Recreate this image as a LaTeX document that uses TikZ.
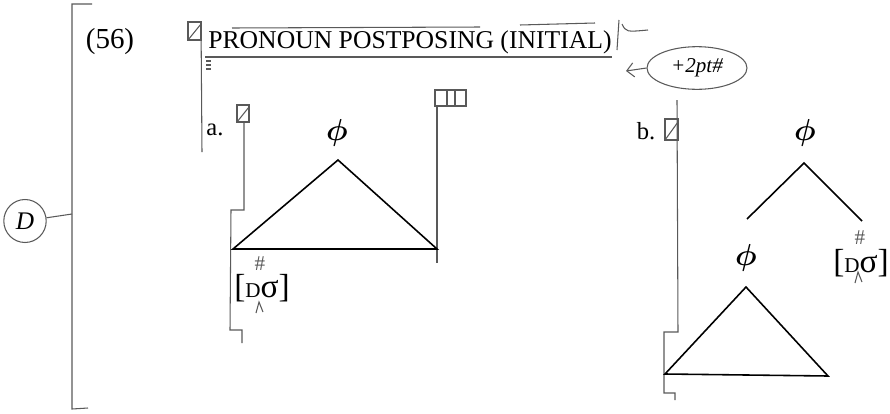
\documentclass[tikz,border=0pt]{standalone}
\usepackage{amsmath}
\usepackage{fontspec}
\setmainfont{Liberation Serif}
\usetikzlibrary{arrows.meta,shapes.geometric}
\tikzset{
  pencil/.style={draw=gray!70!black,line width=0.6pt},
  branch/.style={line width=0.9pt},
  txt/.style={font=\fontsize{14}{16}\selectfont,inner sep=0pt},
  cat/.style={font=\fontsize{19}{21}\selectfont,inner sep=0pt},
  hashmark/.style={font=\large,text=gray!70!black,inner sep=0pt},
}
\newcommand{\Dsig}{[{\fontsize{12}{12}\selectfont D}σ]}
\newcommand{\Phicat}{$\boldsymbol{\phi}$}
\begin{document}
\begin{tikzpicture}[x=0.02cm,y=-0.02cm]
        \useasboundingbox (0,0) rectangle (890,413);
        %% pencil margin marks
        \draw[pencil] (92,4) -- (72,4) -- (72,409) -- (88,408);
        \node[pencil,ellipse,minimum width=0.74cm,minimum height=0.86cm,
          font=\itshape\Large] (markD) at (25,221) {D};
        \coordinate (bkt) at (72,214);
        \draw[pencil] (markD) -- (bkt);
        %% heading
        \node[txt,font=\fontsize{16.5}{18}\selectfont] (exnum) at (110,42) {(56)};
        \node[txt,anchor=west,font=\fontsize{14.6}{16}\selectfont] (title)
          at (208,42) {PRONOUN POSTPOSING (INITIAL)};
        \draw[pencil] (205,57) -- (612,57);
        \draw[pencil] (232,28) -- (480,27);
        \draw[pencil] (520,25) -- (595,23);
        \draw[pencil] (188,22) rectangle (201,40);
        \draw[pencil] (188,40) -- (201,24);
        \draw[pencil] (201,22) -- (202,152);
        \foreach \yy in {61,65,69}
          \draw[pencil] (206,\yy) -- (211,\yy);
        \draw[pencil] (619,20) -- (617,50);
        \draw[pencil] (622,24) .. controls (626,32) .. (648,30);
        \node[pencil,ellipse,minimum width=2cm,minimum height=0.72cm,
          font=\itshape\large] (pt) at (697,68) {+2pt\#};
        \coordinate (ptarr) at (626,71);
        \draw[pencil,-{Straight Barb[length=4pt]}] (pt.west) -- (ptarr);
        %% example a
        \node[txt] (la) at (215,130) {a.};
        \draw[pencil] (237,105) rectangle (249,122);
        \draw[pencil] (237,122) -- (249,107);
        \draw[pencil] (244,122) -- (244,210) -- (231,210) -- (230,330)
          -- (242,330) -- (242,343);
        \draw[pencil] (435,90) rectangle (466,106);
        \draw[pencil] (447,90) -- (447,106) (455,90) -- (455,106);
        \draw[pencil] (437,106) -- (437,263);
        \node[cat] (phiA) at (337,133) {\Phicat};
        \coordinate (topA) at (338,160);
        \coordinate (leftA) at (233,249);
        \coordinate (rightA) at (437,249);
        \draw[branch] (topA) -- (leftA) -- (rightA) -- cycle;
        \node[cat] (dsA) at (262,288) {\Dsig};
        \node[hashmark] (hashA) at (260,264) {\#};
        \draw[pencil] (256,313) -- (259,302) -- (263,312);
        %% example b
        \node[txt] (lb) at (646,131) {b.};
        \draw[pencil] (665,119) rectangle (678,140);
        \draw[pencil] (665,140) -- (678,122);
        \draw[pencil] (677,100) -- (678,332) -- (664,332) -- (664,393)
          -- (675,393) -- (675,400);
        \node[cat] (phiB) at (805,133) {\Phicat};
        \coordinate (topB) at (804,163);
        \coordinate (brL) at (747,219);
        \coordinate (brR) at (862,221);
        \draw[branch] (brL) -- (topB) -- (brR);
        \node[cat] (phiC) at (746,258) {\Phicat};
        \node[cat] (dsB) at (861,263) {\Dsig};
        \node[hashmark] (hashB) at (860,238) {\#};
        \draw[pencil] (855,283) -- (858,272) -- (862,282);
        \coordinate (topC) at (746,287);
        \coordinate (leftC) at (665,374);
        \coordinate (rightC) at (828,376);
        \draw[branch] (topC) -- (leftC) -- (rightC) -- cycle;
      \end{tikzpicture}
\end{document}
